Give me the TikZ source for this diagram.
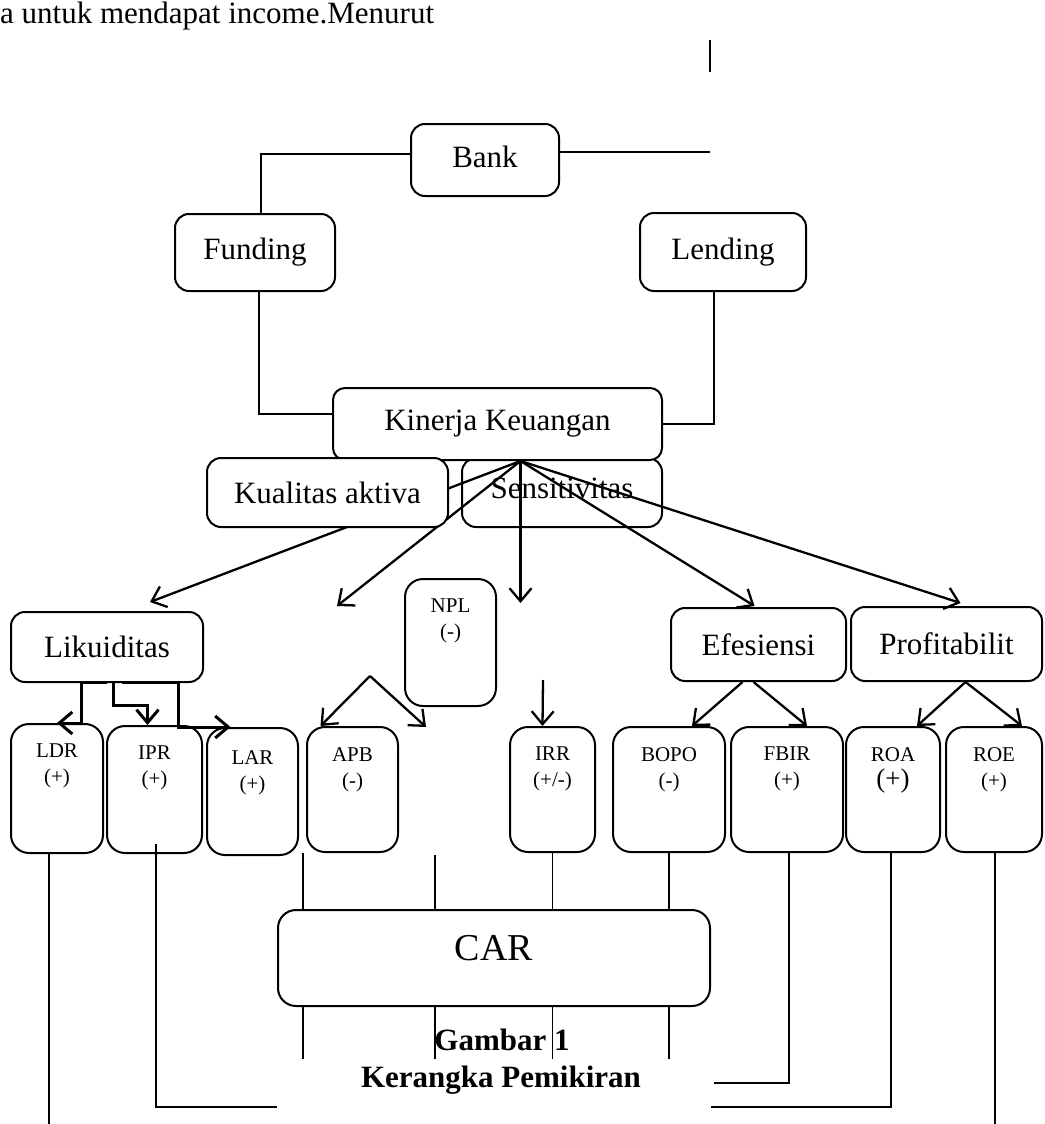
\documentclass[tikz,border=0pt]{standalone}
\usepackage{fontspec}
\setmainfont{Liberation Serif}
\usetikzlibrary{arrows.meta,calc}
\begin{document}
\begin{tikzpicture}[x=1pt,y=-1pt,
  box/.style={draw,line width=2pt,rounded corners=14pt,fill=white,inner sep=0pt,font=\fontsize{31}{37}\selectfont},
  tall/.style={draw,line width=2pt,rounded corners=18pt,fill=white,inner sep=0pt},
  lbl/.style={anchor=north,yshift=-21pt,align=center,inner sep=0pt,font=\fontsize{21}{26}\selectfont},
  conn/.style={line width=2pt},
  arr/.style={line width=2.3pt,-{Straight Barb[length=13pt,width=22pt]}},
  thinln/.style={line width=1.3pt}]
\useasboundingbox (0,0) rectangle (1044,1124);

% top text and stray line
\node[anchor=base west,inner sep=0pt,font=\fontsize{31}{37}\selectfont] (toptxt) at (0,24) {a untuk mendapat income.Menurut};
\coordinate (tA) at (710,40);
\coordinate (tB) at (710,72);
\draw[line width=1.6pt] (tA) -- (tB);

% upper boxes
\node[box,minimum width=148pt,minimum height=72pt,text depth=7pt] (bank) at (485,160) {Bank};
\node[box,minimum width=160pt,minimum height=77pt] (fund) at (255,252.5) {Funding};
\node[box,minimum width=166pt,minimum height=78pt] (len) at (723,252) {Lending};
\node[box,minimum width=200pt,minimum height=69pt,text depth=8pt] (sen) at (562,492.5) {Sensitivitas};
\node[box,minimum width=329pt,minimum height=72pt,rounded corners=12pt] (kin) at (497.5,424) {Kinerja Keuangan};

% connectors top
\coordinate (bR) at (710,152);
\draw[conn] (bank.east |- bR) -- (bR);
\draw[conn] ($(bank.west)+(0,-6)$) -| ($(fund.north)+(6,0)$);
\draw[conn] ($(fund.south)+(4,0)$) |- ($(kin.west)+(0,-10)$);
\draw[conn] ($(len.south)+(-9,0)$) |- (kin.east);

% middle row
\node[box,minimum width=192pt,minimum height=70pt] (lik) at (107,647) {Likuiditas};
\node[box,minimum width=175pt,minimum height=73pt] (efe) at (758.5,644.5) {Efesiensi};
\node[box,minimum width=191pt,minimum height=74pt] (pro) at (946.5,644) {Profitabilit};
\node[tall,minimum width=91pt,minimum height=127pt,label={[lbl]north:NPL\\(-)}] (npl) at (450.5,642.5) {};

% bottom row
\node[tall,minimum width=92pt,minimum height=129pt,label={[lbl]north:LDR\\(+)}] (ldr) at (57,788.5) {};
\node[tall,minimum width=95pt,minimum height=127pt,label={[lbl]north:IPR\\(+)}] (ipr) at (154.5,789.5) {};
\node[tall,minimum width=91pt,minimum height=127pt,label={[lbl,yshift=-2pt]north:LAR\\(+)}] (lar) at (252.5,791.5) {};
\node[tall,minimum width=91pt,minimum height=125pt,label={[lbl]north:APB\\(-)}] (apb) at (352.5,789.5) {};
\node[tall,minimum width=85pt,minimum height=125pt,label={[lbl]north:IRR\\(+/-)}] (irr) at (552.5,789.5) {};
\node[tall,minimum width=112pt,minimum height=125pt,label={[lbl]north:BOPO\\(-)}] (bopo) at (669,789.5) {};
\node[tall,minimum width=112pt,minimum height=125pt,label={[lbl]north:FBIR\\(+)}] (fbir) at (787,789.5) {};
\node[tall,minimum width=94pt,minimum height=125pt,label={[lbl]north:ROA\\{\fontsize{27}{30}\selectfont(+)}}] (roa) at (893,789.5) {};
\node[tall,minimum width=96pt,minimum height=125pt,label={[lbl]north:ROE\\(+)}] (roe) at (994,789.5) {};

\node[tall,minimum width=432pt,minimum height=96pt,font=\fontsize{38}{44}\selectfont,text depth=21pt] (car) at (494,958) {CAR};

% arrows from Kinerja Keuangan
\coordinate (k0) at ($(kin.south)+(23,0)$);
\coordinate (apbGap) at (337,606);
\coordinate (kDown) at (520.5,603);
\draw[arr] (k0) -- ($(lik.north)+(43,-9)$);
\draw[arr] (k0) -- (apbGap);
\draw[arr] (k0) -- (kDown);
\draw[arr] (k0) -- ($(efe.north)+(-4,-1)$);
\draw[arr] (k0) -- ($(pro.north)+(14,-3)$);

% Kualitas aktiva drawn over the arrow
\node[box,minimum width=241pt,minimum height=69pt] (kua) at (327.5,492.5) {Kualitas aktiva};

% Likuiditas connectors
\draw[arr,line width=3pt] ($(lik.south)+(0,-1)$) -- ++(-26,0) |- (ldr.north);
\draw[arr,line width=3pt] ($(lik.south)+(6,-1)$) -- ++(0,23) -| ($(ipr.north)+(-7,0)$);
\draw[arr,line width=3pt] ($(lik.south)+(15,-1)$) -- ++(56,0) |- ($(lar.north)+(-22,0)$);

% APB / NPL area
\coordinate (apx) at (370,676);
\coordinate (apbR) at (426,727);
\draw[arr] (apx) -- ($(apb.north)+(-32,0)$);
\draw[arr] (apx) -- (apbR);
\coordinate (irrS) at (543,680);
\draw[arr] (irrS) -- ($(irr.north)+(-10,0)$);

% Efesiensi and Profitabilit
\draw[arr] ($(efe.south)+(-16,0)$) -- ($(bopo.north)+(23,0)$);
\draw[arr] ($(efe.south)+(-5,0)$) -- ($(fbir.north)+(20,0)$);
\draw[arr] ($(pro.south)+(19,0)$) -- ($(roa.north)+(24,0)$);
\draw[arr] ($(pro.south)+(19,0)$) -- ($(roe.north)+(28,0)$);

% lines to CAR
\draw[thinln] ($(car.north)+(-191,-56)$) -- ($(car.north)+(-191,0)$);
\draw[thinln] ($(car.north)+(-59,-54)$) -- ($(car.north)+(-59,0)$);
\draw[thinln] (irr.south) -- (irr.south |- car.north);
\draw[thinln] (bopo.south) -- (bopo.south |- car.north);
\draw[thinln] ($(car.south)+(-191,0)$) -- ++(0,52);
\draw[thinln] ($(car.south)+(-59,0)$) -- ++(0,52);
\draw[thinln] (irr.south |- car.south) -- ++(0,52);
\draw[thinln] (bopo.south |- car.south) -- ++(0,52);

\draw[thinln] ($(ldr.south)+(-8,0)$) -- ++(0,275);
\draw[thinln] ($(ipr.south)+(1.5,-10)$) |- ($(car.south west)+(0,100)$);
\draw[thinln] ($(fbir.south)+(2,0)$) |- ($(car.south east)+(3,76)$);
\draw[thinln] ($(roa.south)+(-2,0)$) |- ($(car.south east)+(0,100)$);
\draw[thinln] ($(roe.south)+(1,0)$) -- ++(0,275);

% caption
\node[anchor=base,inner sep=0pt,font=\fontsize{31}{37}\selectfont\bfseries] (cap1) at (502,1050) {Gambar 1};
\node[anchor=base,inner sep=0pt,font=\fontsize{31}{37}\selectfont\bfseries] (cap2) at (501,1087) {Kerangka Pemikiran};
\end{tikzpicture}
\end{document}
